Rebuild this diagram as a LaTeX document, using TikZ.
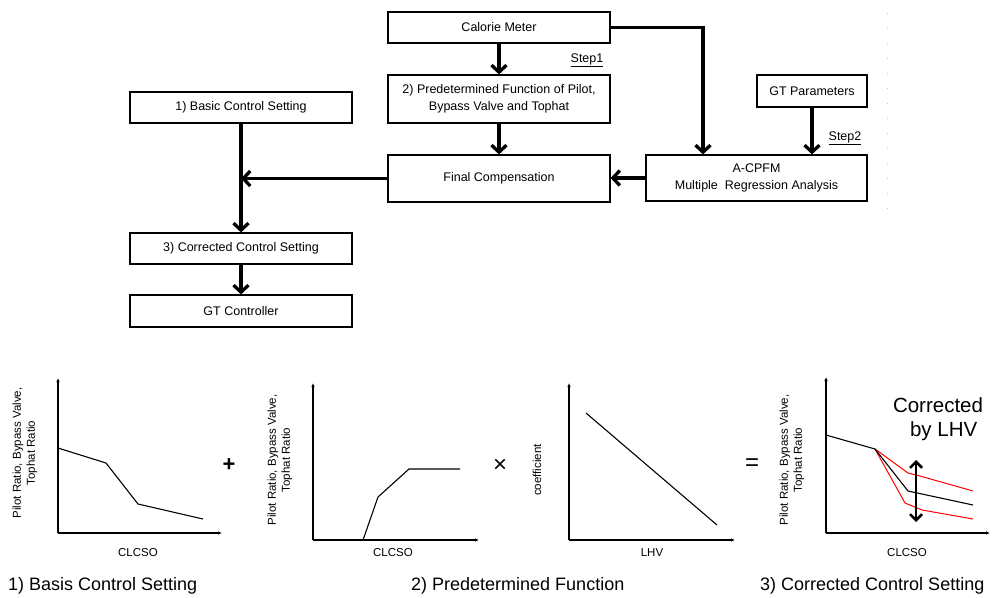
\documentclass[tikz,border=0pt]{standalone}
\usepackage{fontspec}
\setmainfont{Liberation Sans}
\usetikzlibrary{arrows.meta}
\begin{document}
\begin{tikzpicture}[x=1pt,y=-1pt,
  box/.style={draw,line width=1.2pt,inner sep=0pt,align=center,
    font=\fontsize{12.5}{17}\selectfont},
  arr/.style={line width=3.3pt,-{Straight Barb[length=7pt,width=15pt]}},
  axis/.style={line width=1.1pt,-{Latex[length=4pt,width=3.5pt]}},
  curve/.style={line width=1.1pt},
  redc/.style={line width=1pt,red},
  ylab/.style={rotate=90,align=center,font=\fontsize{11.5}{14}\selectfont},
  xlab/.style={font=\fontsize{11.5}{14}\selectfont},
  title/.style={anchor=west,inner sep=0pt,font=\fontsize{18}{22}\selectfont},
  steplab/.style={font=\fontsize{12.5}{15}\selectfont}
]
\useasboundingbox (0,0) rectangle (992,597);
% dotted faint line at right
\draw[gray!45,line width=0.9pt,dash pattern=on 1pt off 14pt] (887,13) -- (887,218);

% boxes
\node[box,minimum width=222pt,minimum height=31pt] (cal) at (499,27.5) {Calorie Meter};
\node[box,minimum width=222pt,minimum height=48pt] (pre) at (499,99) {2) Predetermined Function of Pilot,\\Bypass Valve and Tophat};
\node[box,minimum width=222pt,minimum height=47pt] (fin) at (499,178.5) {Final Compensation};
\node[box,minimum width=221pt,minimum height=46pt] (acp) at (756.5,178) {A-CPFM\\Multiple\ \ Regression Analysis};
\node[box,minimum width=110pt,minimum height=32pt] (gtp) at (812,91) {GT Parameters};
\node[box,minimum width=222pt,minimum height=31pt] (bas) at (241,107.5) {1) Basic Control Setting};
\node[box,minimum width=222pt,minimum height=31pt] (cor) at (241,248.5) {3) Corrected Control Setting};
\node[box,minimum width=222pt,minimum height=32pt] (gtc) at (241,311) {GT Controller};

\node[steplab] (s1) at (587,60) {\underline{Step1}};
\node[steplab] (s2) at (845,138) {\underline{Step2}};

\coordinate (cm) at (703,27.5);
\draw[arr] (cal) -- (pre);
\draw[arr] (pre) -- (fin);
\draw[arr] (cal.east) -- (cm) -- (cm |- acp.north);
\draw[arr] (gtp.south) -- (gtp.south |- acp.north);
\draw[arr] (acp.west) -- (fin.east |- acp.west);
\draw[arr] (bas.south) -- (cor.north);
\draw[arr] (fin.west) -- (bas.south |- fin.west);
\draw[arr] (cor.south) -- (gtc.north);

% Graph 1
\draw[axis] (58,533) -- (58,378);
\draw[axis] (58,533) -- (222,533);
\draw[curve] (58,448) -- (106,463) -- (138,504) -- (203,519);
\node[ylab] (g1y) at (25,453) {Pilot Ratio, Bypass Valve,\\Tophat Ratio};
\node[xlab] (g1x) at (138,553) {CLCSO};
\node[title] (t1) at (8,586) {1) Basis Control Setting};
\node[font=\fontsize{22}{22}\selectfont\bfseries] (plus) at (229,465) {+};

% Graph 2
\draw[axis] (313,540) -- (313,383);
\draw[axis] (313,540) -- (479,540);
\draw[curve] (313,540) -- (363,540) -- (378,497) -- (409,469) -- (460,469);
\node[ylab] (g2y) at (280,460) {Pilot Ratio, Bypass Valve,\\Tophat Ratio};
\node[xlab] (g2x) at (393,553) {CLCSO};
\node[font=\fontsize{24}{24}\selectfont] (times) at (500,466) {×};

% Graph 3
\draw[axis] (569,540) -- (569,383);
\draw[axis] (569,540) -- (735,540);
\draw[curve] (586,413) -- (717,525);
\node[ylab] (g3y) at (537,470) {coefficient};
\node[xlab] (g3x) at (652,553) {LHV};
\node[title] (t2) at (411,586) {2) Predetermined Function};
\node[font=\fontsize{24}{24}\selectfont] (eq) at (752,465) {=};

% Graph 4
\draw[axis] (826,533) -- (826,377);
\draw[axis] (826,533) -- (990,533);
\draw[redc] (875,449) -- (908,473) -- (920,476) -- (973,491);
\draw[redc] (875,449) -- (905,503) -- (922,510) -- (973,519);
\draw[curve] (826,435) -- (875,449) -- (908,491) -- (973,505);
\draw[line width=2.6pt,{Straight Barb[length=6pt,width=12pt]}-{Straight Barb[length=6pt,width=12pt]}] (916,460) -- (916,522);
\node[align=center,font=\fontsize{20.5}{24}\selectfont] (corr) at (938,419) {Corrected\\\ \ by LHV};
\node[ylab] (g4y) at (792,460) {Pilot Ratio, Bypass Valve,\\Tophat Ratio};
\node[xlab] (g4x) at (907,553) {CLCSO};
\node[title] (t3) at (760,586) {3) Corrected Control Setting};
\end{tikzpicture}
\end{document}
